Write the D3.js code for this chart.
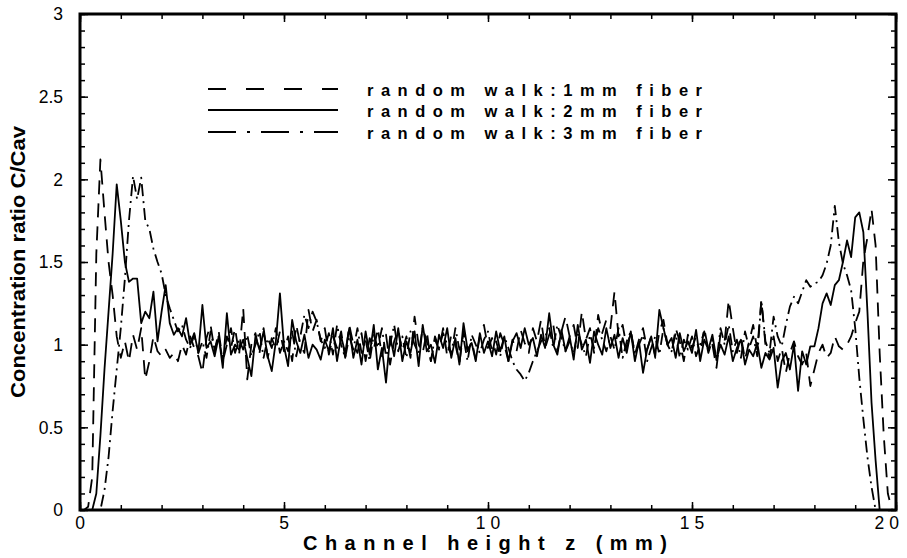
<!DOCTYPE html>
<html>
<head>
<meta charset="utf-8">
<script src="https://cdn.jsdelivr.net/npm/d3@7"></script>
<style>
  body { margin: 0; background: #fff; }
  svg { display: block; font-family: "Liberation Sans", Arial, Helvetica, sans-serif; }
</style>
</head>
<body>
<div id="chart"></div>
<script>
// sample spacing along the channel (mm); value i sits at z = i * zStep
const zStep = 0.1;

// C/Cav, 1 mm fiber (dashed)
const fiber1mm = [
  0, 0, 0.02, 0.2, 1.55, 2.12, 1.8, 1.5, 1.3, 1.05,
  0.92, 1.02, 0.9, 1.06, 0.97, 1.1, 0.79, 0.9, 1.05, 0.96,
  0.93, 0.97, 0.92, 0.95, 0.9, 1.0, 0.94, 1.05, 0.98, 0.93,
  0.83, 1.04, 1.12, 0.96, 1.08, 0.9, 1.05, 0.98, 1.1, 0.94,
  1.22, 0.79, 1.0, 1.07, 0.95, 1.1, 0.92, 1.04, 0.97, 1.08,
  0.96, 1.05, 0.9, 1.12, 1.0, 0.95, 1.21, 1.08, 1.15, 1.02,
  1.1, 0.94, 1.05, 0.98, 1.08, 0.92, 1.12, 1.0, 0.95, 1.07,
  0.9, 1.04, 0.97, 1.1, 0.93, 1.06, 0.88, 1.02, 1.09, 0.96,
  1.05, 0.92, 1.17, 1.0, 0.95, 1.08, 0.9, 1.03, 0.97, 1.1,
  0.93, 1.06, 1.0, 0.89, 1.08, 0.96, 1.02, 0.91, 1.05, 1.12,
  0.98, 1.04, 0.94, 1.07, 1.0, 0.9, 1.03, 0.96, 1.09, 1.01,
  0.95, 1.1, 1.02, 1.15, 0.98, 1.06, 1.12, 0.96, 1.08, 1.17,
  1.05, 1.12, 0.98, 1.2, 1.03, 1.1, 0.95, 1.18, 1.07, 1.15,
  1.1, 1.32, 1.05, 1.12, 0.98, 1.08, 0.94, 1.03, 1.1, 0.97,
  1.05, 0.92, 1.08, 1.15, 1.0, 0.95, 1.1, 1.02, 0.9, 1.06,
  0.98, 1.05, 0.93, 1.1, 0.97, 1.0, 0.86, 1.07, 1.02, 1.27,
  1.1, 0.95, 1.05, 0.91, 1.02, 1.12, 0.97, 1.27, 1.0, 0.92,
  1.05, 0.9, 0.98, 0.83, 0.95, 1.02, 0.93, 0.88, 0.95, 0.75,
  0.85, 0.95, 1.0, 0.92, 0.95, 1.05, 0.99, 0.97, 1.0, 1.05,
  1.13, 1.2, 1.51, 1.65, 1.82, 1.6, 0.95, 0.45, 0.1, 0.0,
  0
];

// C/Cav, 2 mm fiber (solid)
const fiber2mm = [
  0, 0, 0, 0, 0.1, 0.45, 0.85, 1.2, 1.55, 1.97,
  1.75, 1.5, 1.38, 1.4, 1.4, 1.13, 1.2, 1.16, 1.32, 1.02,
  1.2, 1.36, 1.13, 1.06, 1.1, 1.05, 1.16, 1.0, 1.07, 0.95,
  1.24, 0.98, 1.02, 0.93, 1.05, 0.86, 1.19, 0.94, 1.0, 0.97,
  1.03, 0.92, 0.81, 1.05, 0.97, 1.08, 0.93, 0.84, 1.02, 1.31,
  0.99, 0.87, 1.15, 1.02, 0.95, 1.06, 0.92, 1.0, 0.97, 0.91,
  1.03, 0.96, 1.1, 0.9, 1.05, 0.95, 1.1, 0.92, 1.03, 0.88,
  1.08, 0.94, 1.12, 0.85, 0.98, 0.77, 1.05, 0.93, 1.1, 0.9,
  1.02, 0.95, 1.08, 0.87, 1.12, 0.96, 1.0, 0.89, 1.06, 0.98,
  1.1, 0.92, 1.04, 0.88, 1.13, 0.97, 1.01, 0.9, 1.07, 0.95,
  1.02, 0.93, 1.08, 0.96, 1.05, 0.9, 1.02, 1.07, 0.98, 1.1,
  1.0, 1.04, 0.93, 1.06, 0.98, 1.19, 1.0, 0.94, 1.09, 0.96,
  1.05, 0.91, 1.12, 0.97, 1.03, 0.89, 1.08, 1.0, 0.94, 1.1,
  0.98, 1.06, 0.92, 1.04, 0.95, 1.08, 0.9, 1.02, 0.83, 0.97,
  1.05, 0.93, 1.21, 1.1, 1.0, 1.04, 0.92, 1.07, 0.96, 1.02,
  0.95, 1.09, 0.9, 1.03, 0.97, 1.06, 0.91, 1.0, 0.94, 1.05,
  0.9, 0.98, 1.03, 0.88, 0.97, 0.93, 1.01, 0.86, 0.95, 0.91,
  0.98, 0.74, 0.9, 0.95, 0.85, 1.0, 0.72, 0.96, 0.88, 0.99,
  0.99, 1.1, 1.25, 1.31, 1.24, 1.36, 1.39, 1.5, 1.63, 1.53,
  1.77, 1.8, 1.68, 1.2, 0.65, 0.3, 0.0, 0, 0, 0,
  0
];

// C/Cav, 3 mm fiber (dash-dot)
const fiber3mm = [
  0, 0, 0, 0, 0, 0, 0.12, 0.32, 0.6, 0.85,
  1.1, 1.4, 1.75, 2.02, 1.88, 2.01, 1.75, 1.7, 1.58, 1.5,
  1.43, 1.3, 1.22, 1.15, 1.08, 1.12, 1.03, 0.98, 1.06, 0.95,
  1.02, 0.92, 1.08, 0.97, 1.05, 0.9, 1.0, 1.1, 0.95, 1.03,
  0.97, 1.06, 0.93, 1.0, 1.08, 0.92, 1.04, 0.98, 1.1, 0.95,
  1.02, 0.96, 1.08, 0.93, 1.05, 1.18, 1.1, 1.2, 1.14, 1.03,
  0.98, 1.07, 0.94, 1.12, 1.0, 0.92, 1.05, 0.97, 1.1, 0.95,
  1.03, 0.9, 1.06, 0.98, 1.1, 0.93, 1.0, 1.12, 0.96, 1.05,
  0.92, 1.08, 1.0, 0.95, 1.1, 1.02, 0.9, 1.05, 0.98, 1.07,
  1.0, 0.94, 1.1, 0.97, 1.04, 0.9, 1.06, 1.0, 0.95, 1.03,
  1.08, 0.96, 1.02, 0.93, 1.05, 0.98, 0.9, 0.85, 0.82, 0.78,
  0.83, 0.9, 0.96, 1.02, 1.05, 1.1, 0.98, 1.12, 1.04, 0.96,
  1.02, 0.95, 1.08, 1.0, 0.93, 1.06, 0.98, 1.1, 1.03, 0.96,
  1.05, 0.97, 1.1, 0.92, 1.02, 1.08, 0.95, 1.0, 1.06, 0.9,
  0.98, 1.05, 0.94, 1.1, 1.0, 0.96, 1.07, 0.92, 1.03, 0.97,
  1.05, 0.93, 1.0, 1.08, 0.95, 1.03, 0.9, 1.1, 1.0, 1.12,
  0.96, 1.03, 0.92, 1.08, 0.98, 1.05, 0.93, 1.27, 1.02, 0.95,
  1.17, 1.05, 0.99, 1.12, 1.23, 1.29, 1.25, 1.32, 1.39, 1.35,
  1.37, 1.38, 1.42, 1.49, 1.6, 1.84, 1.62, 1.49, 1.42, 1.33,
  1.1, 0.8, 0.55, 0.32, 0.14, 0.0, 0, 0, 0, 0,
  0
];

const seriesNames = ["random walk:1mm fiber", "random walk:2mm fiber", "random walk:3mm fiber"];
const xTicks = [0, 5, 10, 15, 20];
const yTicks = [0, 0.5, 1, 1.5, 2, 2.5, 3];
const yTickLabels = ["0", "0.5", "1", "1.5", "2", "2.5", "3"];

const width = 907, height = 558;
const margin = {top: 14, right: 11, bottom: 48, left: 80};

const svg = d3.select("#chart")
  .append("svg")
  .attr("width", width)
  .attr("height", height);

// Scales
const x = d3.scaleLinear().domain([0, 20]).range([margin.left, width - margin.right]);
const y = d3.scaleLinear().domain([0, 3]).range([height - margin.bottom, margin.top]);

// Ticks on all four sides, pointing inward
const xMinor = d3.range(0, 20.5, 1);
const yMinor = d3.range(0, 3.05, 0.1);

function ticks(axisFn, scale, values, size, transform) {
  svg.append("g")
    .attr("transform", transform)
    .call(axisFn(scale).tickValues(values).tickSize(size).tickFormat(""))
    .call(g => g.select(".domain").remove())
    .call(g => g.selectAll("line").attr("stroke", "#000").attr("stroke-width", 1.5));
}

const bottomY = y(0), topY = y(3), leftX = x(0), rightX = x(20);
ticks(d3.axisBottom, x, xMinor, -5, `translate(0,${bottomY})`);
ticks(d3.axisBottom, x, xTicks, -8, `translate(0,${bottomY})`);
ticks(d3.axisTop, x, xMinor, -5, `translate(0,${topY})`);
ticks(d3.axisTop, x, xTicks, -8, `translate(0,${topY})`);
ticks(d3.axisLeft, y, yMinor, -5, `translate(${leftX},0)`);
ticks(d3.axisLeft, y, yTicks, -8, `translate(${leftX},0)`);
ticks(d3.axisRight, y, yMinor, -5, `translate(${rightX},0)`);
ticks(d3.axisRight, y, yTicks, -8, `translate(${rightX},0)`);

// Tick labels
svg.append("g").selectAll("text")
  .data(xTicks)
  .enter()
  .append("text")
  .attr("x", d => x(d))
  .attr("y", bottomY + 19)
  .attr("dx", 2.5)
  .attr("text-anchor", "middle")
  .attr("font-size", 17.5)
  .attr("letter-spacing", 5)
  .text(d => d)
  .each(function() {
    // keep the last label inside the picture
    const b = this.getBBox();
    if (b.x + b.width > width - 3) d3.select(this).attr("dx", 2.5 - (b.x + b.width - (width - 3)));
  });

svg.append("g").selectAll("text")
  .data(yTicks)
  .enter()
  .append("text")
  .attr("x", 63)
  .attr("y", d => y(d))
  .attr("dy", "0.36em")
  .attr("text-anchor", "end")
  .attr("font-size", 17.5)
  .text((d, i) => yTickLabels[i]);

// Axis titles
svg.append("text")
  .attr("x", 303)
  .attr("y", 550)
  .attr("font-size", 20)
  .attr("font-weight", "bold")
  .attr("textLength", 364)
  .attr("lengthAdjust", "spacing")
  .text("Channel height z (mm)");

svg.append("text")
  .attr("transform", "translate(25,398) rotate(-90)")
  .attr("font-size", 20)
  .attr("font-weight", "bold")
  .attr("textLength", 272)
  .attr("lengthAdjust", "spacingAndGlyphs")
  .text("Concentration ratio C/Cav");

// Lines
const styles = [
  {dash: "14 9", legendDash: "18 20"},
  {dash: null, legendDash: null},
  {dash: "12 5 2 5", legendDash: "28 11 3 11"}
];
const allSeries = [fiber1mm, fiber2mm, fiber3mm];

const line = d3.line()
  .x((d, i) => x(i * zStep))
  .y(d => y(d));

svg.append("g").selectAll("path")
  .data(allSeries)
  .enter()
  .append("path")
  .attr("d", line)
  .attr("fill", "none")
  .attr("stroke", "#000")
  .attr("stroke-width", 1.8)
  .attr("stroke-linejoin", "round")
  .attr("stroke-dasharray", (d, i) => styles[i].dash);

// Frame
svg.append("rect")
  .attr("x", leftX)
  .attr("y", topY)
  .attr("width", rightX - leftX)
  .attr("height", bottomY - topY)
  .attr("fill", "none")
  .attr("stroke", "#000")
  .attr("stroke-width", 3);

// Legend
const legend = svg.append("g");
const rowY = [89, 110, 132];
seriesNames.forEach((name, i) => {
  legend.append("line")
    .attr("x1", 208).attr("x2", 338)
    .attr("y1", rowY[i]).attr("y2", rowY[i])
    .attr("stroke", "#000")
    .attr("stroke-width", 2.2)
    .attr("stroke-dasharray", styles[i].legendDash);
  legend.append("text")
    .attr("x", 367)
    .attr("y", rowY[i] + 6.5)
    .attr("font-size", 16.5)
    .attr("font-weight", "bold")
    .attr("textLength", 335)
    .attr("lengthAdjust", "spacing")
    .text(name);
});
</script>
</body>
</html>
